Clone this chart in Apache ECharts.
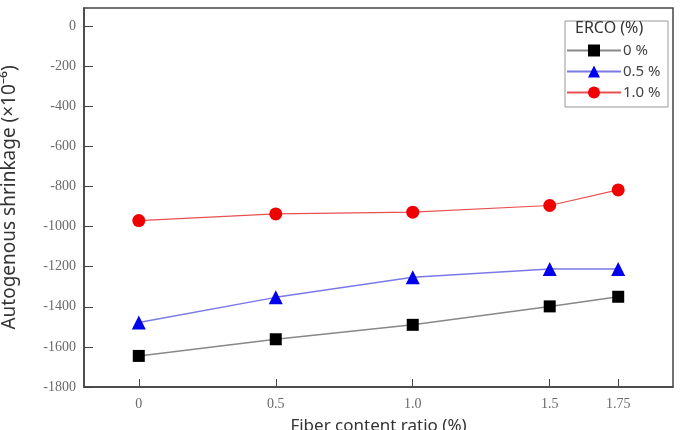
<!DOCTYPE html>
<html>
<head>
<meta charset="utf-8">
<script src="https://cdn.jsdelivr.net/npm/echarts@6/dist/echarts.min.js"></script>
<style>
  html, body { margin: 0; padding: 0; background: #fff; }
  #chart { width: 680px; height: 430px; }
</style>
</head>
<body>
<div id="chart"></div>
<script>
// Fiber content ratio (%) on x, autogenous shrinkage (x10^-6) on y
const fiberRatio = [0, 0.5, 1.0, 1.5, 1.75];
const xTickValues = [0, 0.5, 1.0, 1.5, 1.75];
const xTickLabels = ['0', '0.5', '1.0', '1.5', '1.75'];

const erco0 = [-1645, -1562, -1490, -1398, -1350];
const erco05 = [-1478, -1353, -1253, -1212, -1212];
const erco10 = [-970, -937, -928, -895, -817];

const seriesNames = ['0 %', '0.5 %', '1.0 %'];

const pairs = ys => fiberRatio.map((x, i) => [x, ys[i]]);

const chart = echarts.init(document.getElementById('chart'));

const tickFont = { fontFamily: 'Liberation Serif', fontSize: 14, color: '#6a6a6a' };

chart.setOption({
  animation: false,
  grid: {
    left: 84, right: 7, top: 8, bottom: 43,
    outerBoundsMode: 'none',
    containLabel: false,
    show: true, borderColor: '#444', borderWidth: 1.5
  },
  graphic: [
    {
      type: 'rect',
      shape: { x: 565, y: 21, width: 103, height: 86 },
      style: { fill: '#fff', stroke: '#999', lineWidth: 1 },
      z: 10
    },
    {
      type: 'text',
      left: 575, top: 20,
      style: { text: 'ERCO (%)', fontFamily: 'Noto Sans', fontSize: 16, fill: '#333' },
      z: 11
    }
  ],
  legend: {
    orient: 'vertical',
    left: 561, top: 38,
    itemWidth: 54, itemHeight: 15, itemGap: 6,
    data: seriesNames,
    textStyle: { fontFamily: 'Noto Sans', fontSize: 15, color: '#444', padding: [0, 0, 0, -3] },
    z: 12
  },
  xAxis: {
    type: 'value',
    min: -0.2, max: 1.95,
    name: 'Fiber content ratio (%)',
    nameLocation: 'middle',
    nameGap: 31,
    nameTextStyle: { fontFamily: 'Noto Sans', fontSize: 17, color: '#333' },
    axisLine: { show: true, onZero: false, lineStyle: { color: '#444', width: 1.5 } },
    axisTick: { show: true, inside: true, length: 8, customValues: xTickValues, lineStyle: { color: '#444' } },
    axisLabel: {
      ...tickFont, margin: 10,
      customValues: xTickValues,
      formatter: v => xTickLabels[xTickValues.indexOf(v)]
    },
    splitLine: { show: false }
  },
  yAxis: {
    type: 'value',
    min: -1800, max: 90, interval: 200,
    name: 'Autogenous shrinkage (\u00d710\u207b\u2076)',
    nameLocation: 'middle',
    nameGap: 65,
    nameTextStyle: { fontFamily: 'Noto Sans', fontSize: 19, color: '#333' },
    axisLine: { show: true, onZero: false, lineStyle: { color: '#444', width: 1.5 } },
    axisTick: { show: true, inside: true, length: 9, lineStyle: { color: '#444' } },
    axisLabel: { ...tickFont, margin: 8, showMaxLabel: false, formatter: v => String(v) },
    splitLine: { show: false }
  },
  series: [
    {
      name: seriesNames[0], type: 'line', data: pairs(erco0),
      symbol: 'rect', symbolSize: 12,
      itemStyle: { color: '#000' },
      lineStyle: { color: '#888', width: 1.5 }
    },
    {
      name: seriesNames[1], type: 'line', data: pairs(erco05),
      symbol: 'triangle', symbolSize: 14,
      itemStyle: { color: '#0000ee' },
      lineStyle: { color: '#7a7ae6', width: 1.5 }
    },
    {
      name: seriesNames[2], type: 'line', data: pairs(erco10),
      symbol: 'circle', symbolSize: 13,
      itemStyle: { color: '#f00000' },
      lineStyle: { color: '#e85050', width: 1.2 }
    }
  ]
});
</script>
</body>
</html>
